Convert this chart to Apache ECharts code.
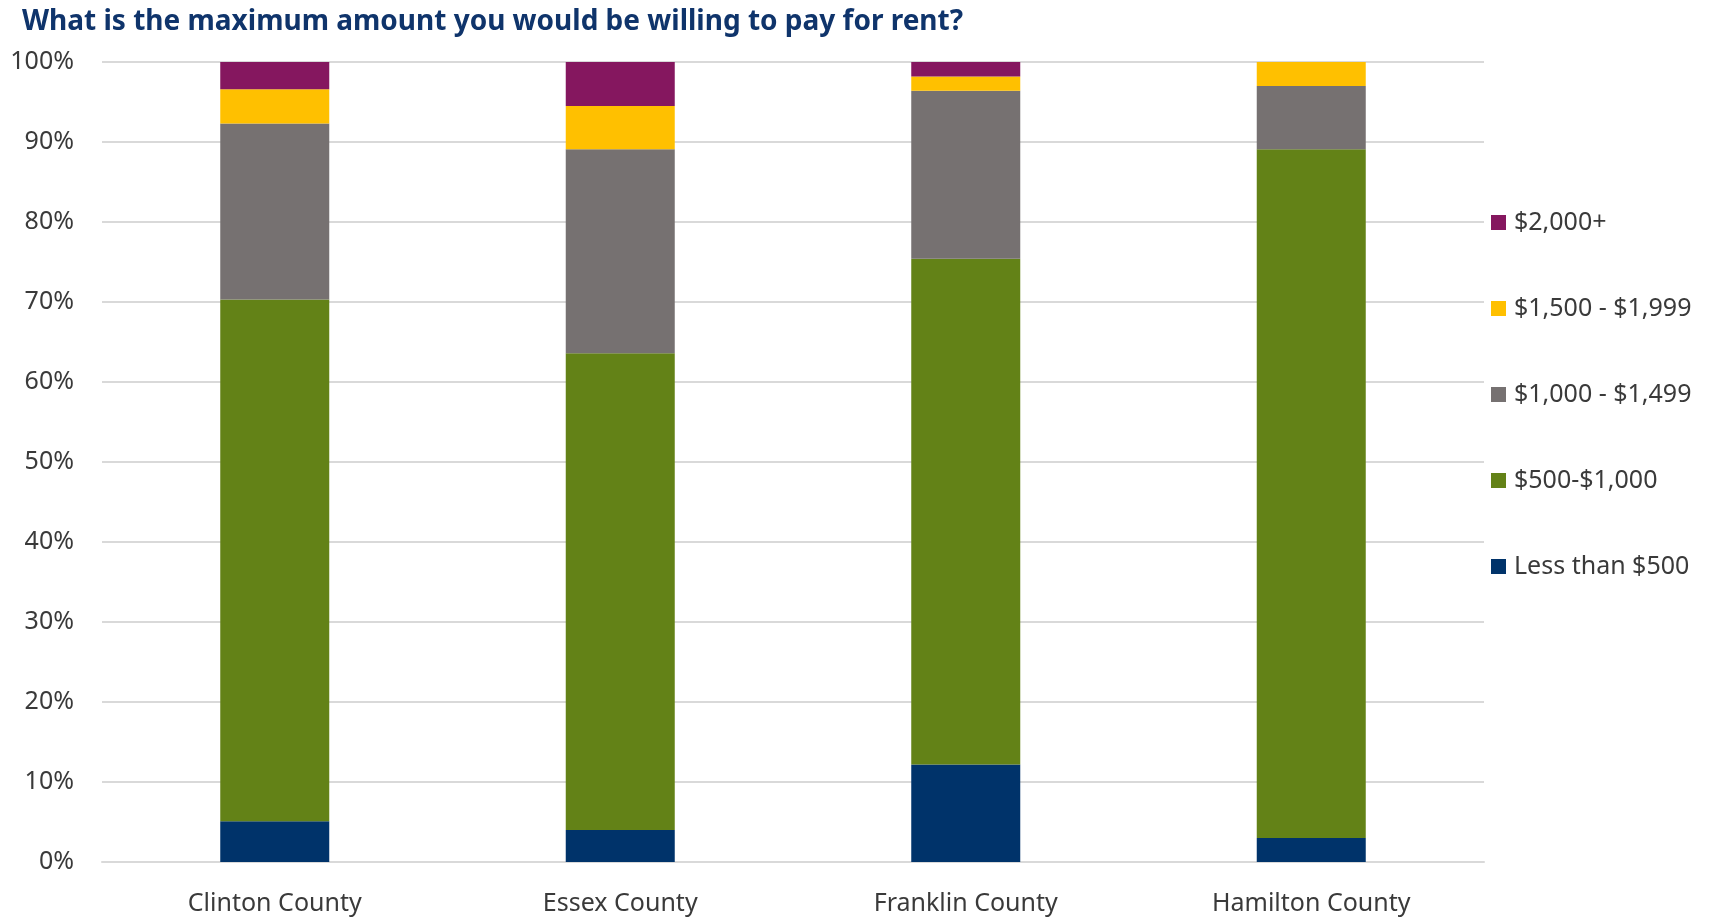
<!DOCTYPE html>
<html>
<head>
<meta charset="utf-8">
<script src="https://cdn.jsdelivr.net/npm/echarts@6/dist/echarts.min.js"></script>
<style>
  html, body { margin: 0; padding: 0; background: #ffffff; }
  #chart { width: 1709px; height: 918px; }
</style>
</head>
<body>
<div id="chart"></div>
<script>
// Counties surveyed
const counties = ['Clinton County', 'Essex County', 'Franklin County', 'Hamilton County'];

// Share of respondents (%) per rent bracket, one value per county
const lessThan500 = [5.1, 4.0, 12.2, 3.0];
const from500to1000 = [65.2, 59.6, 63.2, 86.1];
const from1000to1499 = [22.0, 25.5, 21.0, 7.9];
const from1500to1999 = [4.3, 5.4, 1.8, 3.0];
const over2000 = [3.4, 5.5, 1.8, 0];

const seriesNames = ['Less than $500', '$500-$1,000', '$1,000 - $1,499', '$1,500 - $1,999', '$2,000+'];
const seriesValues = [lessThan500, from500to1000, from1000to1499, from1500to1999, over2000];
const seriesColors = ['#00336a', '#638217', '#767171', '#ffc000', '#85175f'];

const textColor = '#3a3a3a';
const fontFamily = '"Noto Sans", "Open Sans", sans-serif';

const chart = echarts.init(document.getElementById('chart'), null, { renderer: 'canvas' });

chart.setOption({
  animation: false,
  backgroundColor: '#ffffff',
  title: {
    text: 'What is the maximum amount you would be willing to pay for rent?',
    left: 17,
    top: 3,
    textStyle: { color: '#0f346b', fontSize: 28, fontWeight: 'bold', fontFamily: fontFamily }
  },
  grid: { left: 102, right: 225, top: 62, bottom: 56, containLabel: false },
  legend: {
    orient: 'vertical',
    left: 1486,
    top: 205,
    itemWidth: 15,
    itemHeight: 15,
    itemGap: 61,
    icon: 'rect',
    data: seriesNames.slice().reverse(),
    textStyle: { color: textColor, fontSize: 25, fontFamily: fontFamily, lineHeight: 24, padding: [0, 0, 0, 3] }
  },
  xAxis: {
    type: 'category',
    data: counties,
    axisLine: { show: true, lineStyle: { color: '#d9d9d9', width: 2 } },
    axisTick: { show: false },
    axisLabel: { color: textColor, fontSize: 25, fontFamily: fontFamily, margin: 29 }
  },
  yAxis: {
    type: 'value',
    min: 0,
    max: 100,
    interval: 10,
    axisLine: { show: false },
    axisTick: { show: false },
    splitLine: { lineStyle: { color: '#d9d9d9', width: 2 } },
    axisLabel: {
      color: textColor, fontSize: 25, fontFamily: fontFamily, margin: 28,
      formatter: v => v + '%'
    }
  },
  series: seriesNames.map((name, i) => ({
    name: name,
    type: 'bar',
    stack: 'rent',
    barWidth: 109,
    data: seriesValues[i],
    itemStyle: { color: seriesColors[i] }
  }))
});
</script>
</body>
</html>
